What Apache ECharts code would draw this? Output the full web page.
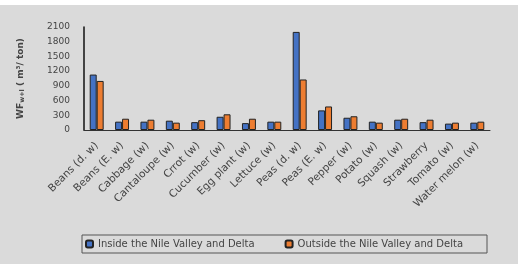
<!DOCTYPE html>
<html>
<head>
<meta charset="utf-8">
<script src="https://cdn.jsdelivr.net/npm/echarts@6/dist/echarts.min.js"></script>
<style>
  html, body { margin: 0; padding: 0; background: #ffffff; }
  #main { width: 518px; height: 264px; }
</style>
</head>
<body>
<div id="main"></div>
<script>
var crops = [
  "Beans (d. w)", "Beans (E. w)", "Cabbage (w)", "Cantaloupe (w)", "Crrot (w)",
  "Cucumber (w)", "Egg plant (w)", "Lettuce (w)", "Peas (d. w)", "Peas (E. w)",
  "Pepper (w)", "Potato (w)", "Squash (w)", "Strawberry", "Tomato (w)", "Water melon (w)"
];
var inside = [1130, 170, 170, 190, 160, 270, 140, 170, 2000, 400, 250, 170, 210, 160, 130, 150];
var outside = [1000, 230, 210, 150, 200, 320, 230, 170, 1030, 480, 280, 150, 230, 210, 150, 170];
var yTicks = [0, 300, 600, 900, 1200, 1500, 1800, 2100];

var chart = echarts.init(document.getElementById("main"));
var option = {
  backgroundColor: "#dadada",
  animation: false,
  textStyle: { fontFamily: "DejaVu Sans" },
  graphic: [
    { type: "rect", shape: { x: 0, y: 0, width: 518, height: 5 }, style: { fill: "#ffffff" } }
  ],
  grid: { left: 84, right: 28, top: 27, bottom: 134 },
  legend: {
    bottom: 11,
    left: 82,
    itemWidth: 7,
    itemHeight: 7,
    itemGap: 30,
    padding: [4, 24, 4, 3],
    borderColor: "#555",
    borderWidth: 1,
    textStyle: { fontSize: 10, color: "#444" },
    data: ["Inside the Nile Valley and Delta", "Outside the Nile Valley and Delta"]
  },
  xAxis: {
    type: "category",
    data: crops,
    axisTick: { show: false },
    axisLine: { lineStyle: { color: "#333" } },
    axisLabel: { rotate: 45, fontSize: 10.5, color: "#444", interval: 0, margin: 14 }
  },
  yAxis: {
    type: "value",
    min: yTicks[0],
    max: yTicks[yTicks.length - 1],
    interval: 300,
    splitLine: { show: false },
    axisLine: { show: true, lineStyle: { color: "#111", width: 1.5 } },
    axisTick: { show: false },
    axisLabel: { fontSize: 9, color: "#444", margin: 14, formatter: function (v) { return String(v); } },
    name: "{a|WF}{s|w+l}{a| ( m³/ ton)}",
    nameLocation: "middle",
    nameGap: 58,
    nameRotate: 90,
    nameTextStyle: {
      rich: {
        a: { fontSize: 9, color: "#444", fontWeight: "bold" },
        s: { fontSize: 6.5, color: "#444", fontWeight: "bold", verticalAlign: "bottom", padding: [4, 0, 0, 0] }
      }
    }
  },
  series: [
    {
      name: "Inside the Nile Valley and Delta",
      type: "bar",
      data: inside,
      barGap: "0%",
      barCategoryGap: "45%",
      itemStyle: { color: "#4472c4", borderColor: "#222", borderWidth: 1 }
    },
    {
      name: "Outside the Nile Valley and Delta",
      type: "bar",
      data: outside,
      itemStyle: { color: "#ed7d31", borderColor: "#222", borderWidth: 1 }
    }
  ]
};
chart.setOption(option);
</script>
</body>
</html>
